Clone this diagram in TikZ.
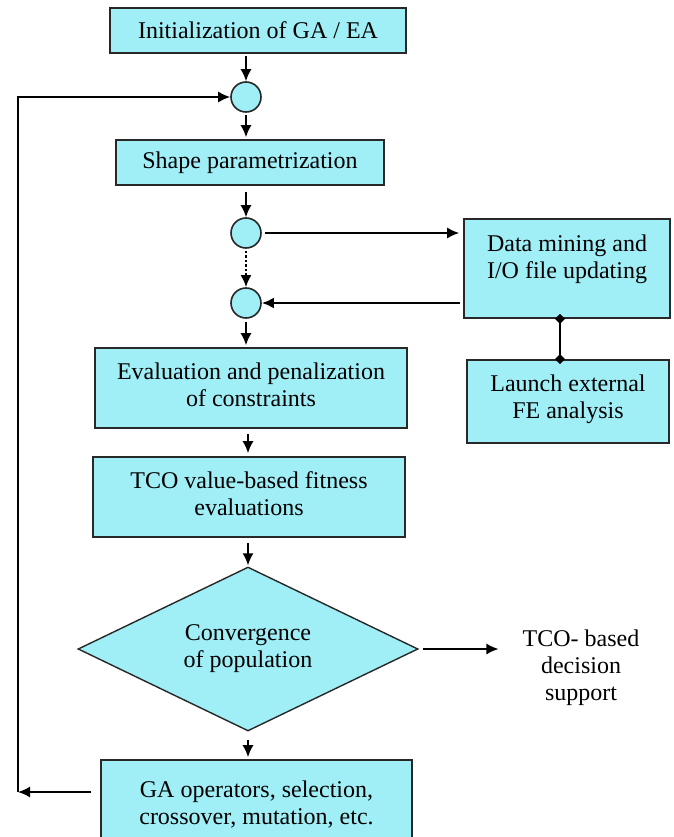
\documentclass[tikz,border=0pt]{standalone}
\usepackage{fontspec}
\setmainfont{Liberation Serif}
\newfontfamily\timesfont{Liberation Serif}
\usetikzlibrary{shapes.geometric,arrows.meta}
\definecolor{boxfill}{RGB}{160,238,246}
\definecolor{edge}{RGB}{40,40,40}
\tikzset{
  txt/.style={font=\timesfont\fontsize{24}{27}\selectfont, align=center, inner sep=0pt, text=black},
  procbox/.style={txt, draw=edge, line width=1.6pt, fill=boxfill, rectangle},
  joint/.style={draw=edge, line width=1.6pt, fill=boxfill, circle, minimum size=30pt, inner sep=0pt},
  decbox/.style={txt, draw=edge, line width=1.4pt, fill=boxfill, diamond, aspect=2.07, minimum width=340pt, minimum height=164pt},
  arr/.style={draw=black, line width=1.6pt, -{Latex[length=12pt,width=11pt]}},
  arrthick/.style={arr, line width=2.6pt},
  dm/.style={draw=black, line width=1.6pt, {Diamond[length=10pt,width=10pt]}-{Diamond[length=10pt,width=10pt]}, shorten <=-5pt, shorten >=-5pt}
}
\begin{document}
\begin{tikzpicture}[x=1pt,y=-1pt]
\useasboundingbox (0,0) rectangle (673,837);
\clip (0,0) rectangle (673,837);
\fill[white] (0,0) rectangle (673,837);

\node[procbox, minimum width=296pt, minimum height=45pt] (init) at (258,30.5) {Initialization of GA / EA};
\node[joint] (c1) at (246,97) {};
\node[procbox, minimum width=268pt, minimum height=45pt] (shape) at (250,162.5) {Shape parametrization};
\node[joint] (c2) at (246,233) {};
\node[joint] (c3) at (246,303) {};
\node[procbox, minimum width=206pt, minimum height=99pt] (data) at (567,268.5) {Data mining and\\I/O file updating\rule[-23pt]{0pt}{0pt}};
\node[procbox, minimum width=202pt, minimum height=83pt] (launch) at (568,401.5) {Launch external\\FE analysis\rule[-10pt]{0pt}{0pt}};
\node[procbox, minimum width=312pt, minimum height=80pt] (eval) at (251,388) {Evaluation and penalization\\of constraints\rule[-6pt]{0pt}{0pt}};
\node[procbox, minimum width=312pt, minimum height=80pt] (tco) at (249,497) {TCO value-based fitness\\evaluations\rule[-6pt]{0pt}{0pt}};
\node[decbox] (dec) at (248,649) {Convergence\\of population};
\node[txt] (out) at (581,667.5) {TCO- based\\decision\\support};
\node[procbox, minimum width=311pt, minimum height=90pt] (ga) at (256.5,805) {GA operators, selection,\\crossover, mutation, etc.};

\coordinate (lc) at (18,792);
\coordinate (dtop) at ([xshift=-7pt]data.south);

\draw[arr, shorten <=2pt] (init.south -| c1) -- (c1.north);
\draw[arr, shorten <=2pt, shorten >=2pt] (c1.south) -- (shape.north -| c1);
\draw[arr, shorten <=6pt] (shape.south -| c2) -- (c2.north);
\draw[arr, line width=2.2pt, dash pattern=on 2.5pt off 2pt, shorten <=2pt] (c2.south) -- (c3.north);
\draw[arr, shorten <=3pt, shorten >=4pt] (c2.east) -- (data.west |- c2);
\draw[arrthick, shorten <=3pt] (data.west |- c3) -- (c3.east);
\draw[dm] (dtop) -- (dtop |- launch.north);
\draw[arr, shorten <=3pt, shorten >=2pt] (c3.south) -- (eval.north -| c3);
\draw[arr, shorten <=5pt, shorten >=3pt] (eval.south -| dec) -- (tco.north -| dec);
\draw[arr, shorten <=5pt, shorten >=1pt] (tco.south -| dec) -- (dec.north);
\draw[arr, shorten <=8pt, shorten >=2pt] (dec.south) -- (ga.north -| dec);
\draw[arr, shorten <=4pt, shorten >=24pt] (dec.east) -- (out.west |- dec.east);
\draw[arr, shorten <=9pt] (ga.west |- lc) -- (lc);
\draw[arr] (lc) |- (c1.west);
\end{tikzpicture}
\end{document}
